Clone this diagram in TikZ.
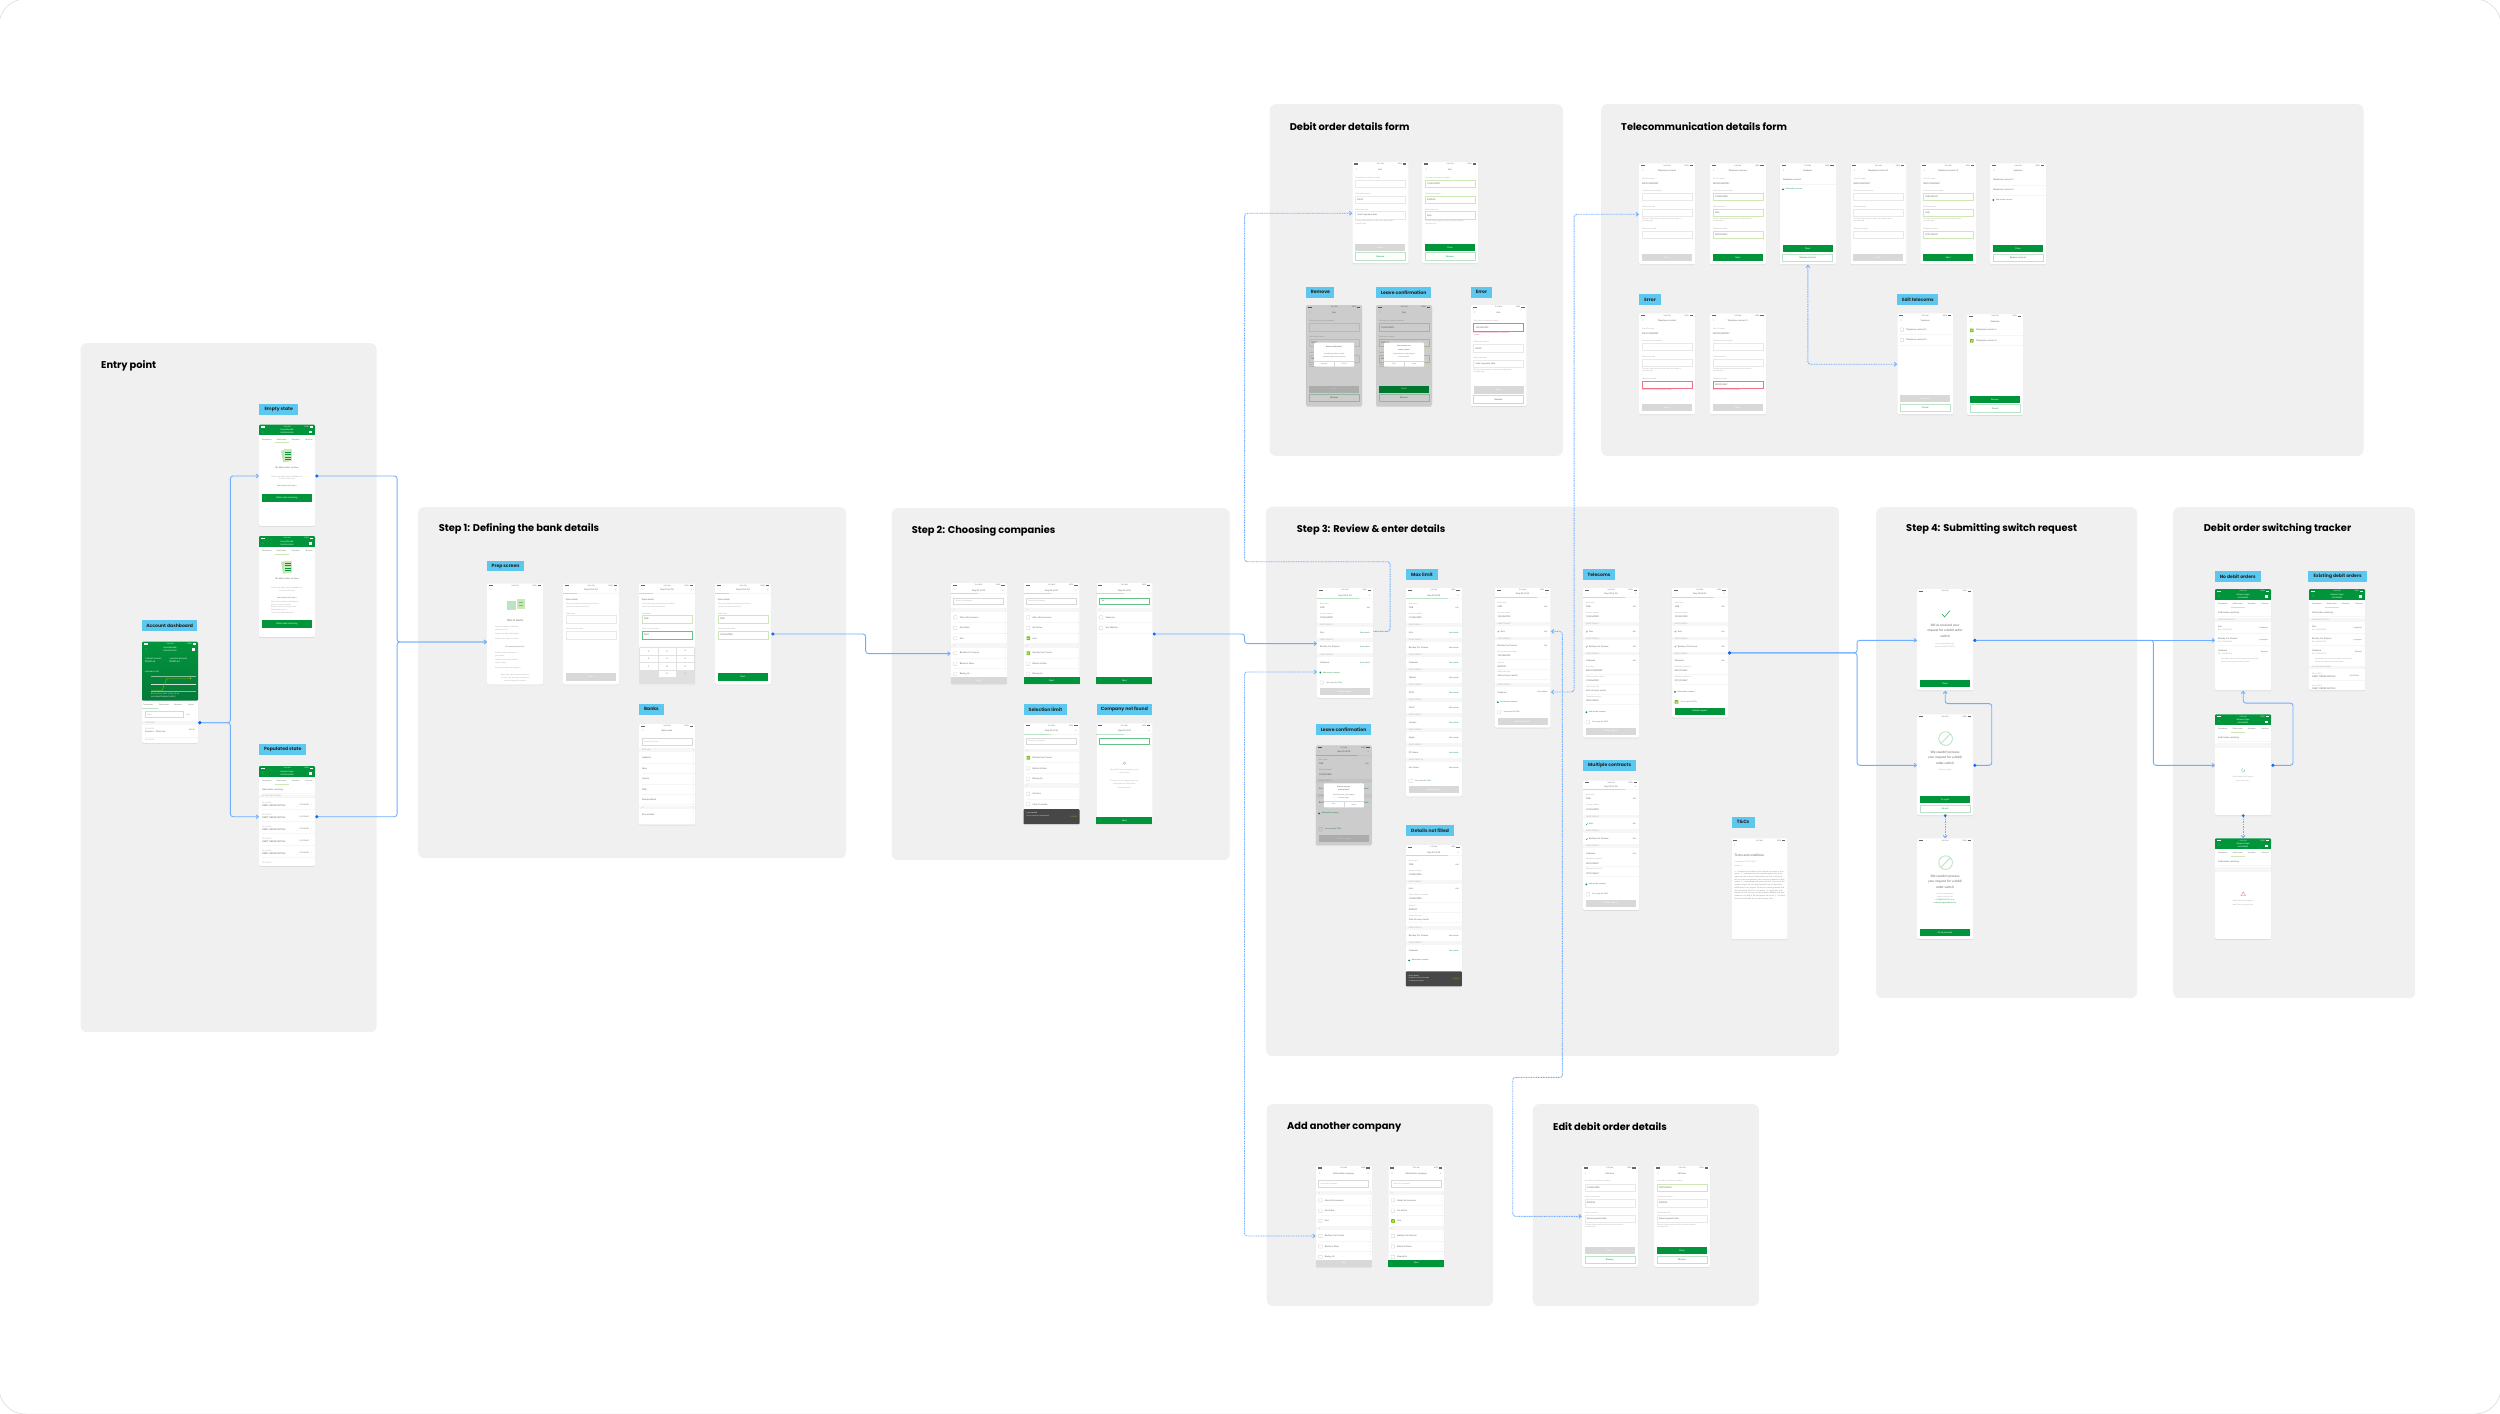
\documentclass[tikz,border=0pt]{standalone}
\usepackage{fontspec}
\usepackage{xcolor}
\setmainfont{Lato}
\setsansfont{Poppins}
\newfontfamily\symbolfont{DejaVu Sans}
\usepackage{tikz}
\usetikzlibrary{arrows.meta,calc,shadows}
\definecolor{flowblue}{HTML}{6FAEFF}
\definecolor{portblue}{HTML}{0A6CFF}
\definecolor{taglight}{HTML}{5CC8F0}
\definecolor{panelgray}{HTML}{F0F0F0}
\definecolor{bankgreen}{HTML}{00953B}
\definecolor{bankdark}{HTML}{06793A}
\definecolor{palegreen}{HTML}{BCE3C8}
\definecolor{limefield}{HTML}{CDE8B5}
\definecolor{limetick}{HTML}{7AC110}
\definecolor{bandgray}{HTML}{F6F6F6}
\definecolor{btngray}{HTML}{D8D8D8}
\definecolor{txtdark}{HTML}{666666}
\definecolor{txtsoft}{HTML}{A8A8A8}
\definecolor{toastgray}{HTML}{474747}
\definecolor{errorred}{HTML}{F0728A}
\definecolor{linkblue}{HTML}{3F96F5}
\newcommand{\fsmall}{\fontsize{2.5}{3}\selectfont}
\newcommand{\ftiny}{\fontsize{2}{2.6}\selectfont}
\newcounter{lblno}
% every little screen text goes through this one
\newcommand{\lbl}[4][]{\if\relax\detokenize{#4}\relax\else\stepcounter{lblno}\node[lbltxt,#1] (lbl\arabic{lblno}) at (#2,#3) {#4};\fi}
\newenvironment{screen}[4]{\node[phone,minimum height=#4*0.04cm] (#1) at (#2,#3) {};\begin{scope}[shift={(#1.north west)}]}{\end{scope}}
\newcommand{\statusrow}[1]{%
  \fill[#1] (2,1.7) rectangle (6,2.8);
  \lbl[anchor=center,font=\ftiny,text=#1]{28}{2.3}{9:41 AM}
  \lbl[anchor=east,font=\ftiny,text=#1]{50}{2.3}{100\%}
  \fill[#1] (50.5,1.6) rectangle (54,2.9);}
\newcommand{\stephead}[3]{% title, bar y, green length
  \statusrow{txtdark}
  \lbl[anchor=center]{4}{#2-3.2}{‹}
  \lbl[anchor=center]{28}{#2-3.2}{#1}
  \lbl[anchor=center]{52.5}{#2-3.2}{×}
  \fill[bandgray] (0,#2-.4) rectangle (56,#2+.4);
  \fill[palegreen] (0,#2-.4) rectangle (#3,#2+.4);}
\newcommand{\backhead}[1]{%
  \statusrow{txtdark}
  \lbl[anchor=center,font=\fontsize{4}{4}\selectfont]{4}{7.7}{‹}
  \lbl[anchor=center]{28}{7.7}{#1}}
\newcommand{\greenhead}[2]{%
  \fill[bankgreen,rounded corners=1.2pt] (0,0) rectangle (56,6);
  \fill[bankgreen] (0,3) rectangle (56,10.7);
  \statusrow{white}
  \lbl[anchor=center,text=white,font=\fontsize{4}{4}\selectfont]{4}{7.5}{‹}
  \lbl[anchor=center,text=white]{28}{5.6}{#1}
  \lbl[anchor=center,text=white,font=\ftiny]{28}{8.6}{#2}
  \fill[white] (50,6.4) rectangle (53,8.6);
  \lbl[anchor=center,font=\ftiny]{7.7}{14.7}{Transactions}
  \lbl[anchor=center,font=\ftiny]{22.7}{14.7}{Debit orders}
  \lbl[anchor=center,font=\ftiny]{36.7}{14.7}{Schedules}
  \lbl[anchor=center,font=\ftiny]{50}{14.7}{Card man}
  \fill[limefield] (16,17.6) rectangle (30,18.4);}
\newcommand{\greenbtn}[3]{\fill[bankgreen] (3,#1) rectangle (53,#2);\lbl[anchor=center,text=white]{28}{#1/2+#2/2}{#3}}
\newcommand{\graybtn}[3]{\fill[btngray] (3,#1) rectangle (53,#2);\lbl[anchor=center,text=white]{28}{#1/2+#2/2}{#3}}
\newcommand{\linebtn}[3]{\draw[palegreen,line width=.7pt] (3,#1) rectangle (53,#2);\lbl[anchor=center,text=bankgreen]{28}{#1/2+#2/2}{#3}}
\newcommand{\band}[2]{\fill[bandgray] (0,#1-1.8) rectangle (56,#1+1.8);\lbl[lblsoft]{3}{#1}{#2}}
\newcommand{\hairline}[1]{\draw[bandgray,line width=.4pt] (3,#1) -- (56,#1);}
\newcommand{\cbox}[2]{\draw[btngray,line width=.5pt,rounded corners=.5pt] (#1,#2-1.7) rectangle (#1+3.4,#2+1.7);}
\newcommand{\cboxon}[2]{\fill[limetick,rounded corners=.5pt] (#1,#2-1.8) rectangle (#1+3.6,#2+1.8);\draw[white,line width=.35pt] (#1+.9,#2) -- (#1+1.6,#2+.8) -- (#1+2.8,#2-.9);}
\newcommand{\tickmark}[2]{\draw[bankgreen,line width=.3pt] (#1,#2) -- (#1+.6,#2+.7) -- (#1+1.6,#2-.8);}
\newcommand{\field}[6]{% label y, box top, box bottom, colour, value, label
  \lbl[lblsoft]{3}{#1}{#6}
  \draw[#4,line width=.6pt] (3,#2) rectangle (53,#3);
  \lbl[lbltxt]{5}{#2/2+#3/2}{#5}}
\newcommand{\listrow}[3]{#2{3}{#1}\lbl{9}{#1}{#3}\hairline{#1+4.8}}
\newcommand{\alphadots}[2]{\pgfmathparse{#1+3}\edef\dotnext{\pgfmathresult}\foreach \dotpos in {#1,\dotnext,...,#2} \fill[txtsoft] (54.6,\dotpos) circle (.2);}
\newcommand{\orderrow}[2]{\lbl{3}{#1}{#2}\lbl[anchor=east,text=bankgreen,font=\ftiny]{53}{#1}{Enter details}}
\newcommand{\editrow}[2]{\tickmark{3}{#1}\lbl{6}{#1}{#2}\lbl[anchor=east,font=\ftiny]{53}{#1}{Edit}}
\newcommand{\addrow}[2]{\fill[bankgreen] (3.3,#1) circle (1);\lbl[text=bankgreen,font=\ftiny]{5.8}{#1}{#2}}
\newcommand{\acceptrow}[2]{#2{3}{#1}\lbl[font=\ftiny]{9}{#1}{You accept the \textcolor{bankgreen}{T\&Cs}}}
\newcommand{\reviewtop}[1]{\begin{scope}[shift={(0,#1)}]
  \lbl[lblsoft]{3}{16}{Bank name}\lbl{3}{20}{FNB}\lbl[anchor=east,font=\ftiny]{53}{20}{Edit}
  \lbl[lblsoft]{3}{26}{Account number}\lbl{3}{30.3}{1234567890}\end{scope}}
\newcommand{\smallfield}[3]{\lbl[lblsoft]{3}{#1}{#2}\lbl{3}{#1+4}{#3}\hairline{#1+6.8}}
\newcommand{\toast}[5]{% top, bottom, title, line one, line two
  \fill[toastgray,rounded corners=1pt] (0,#1) rectangle (56,#2);
  \lbl[text=white,font=\ftiny]{3}{#1+4}{#3}
  \lbl[text=white,font=\fontsize{1.7}{2}\selectfont]{3}{#1+7}{#4}
  \lbl[text=white,font=\fontsize{1.7}{2}\selectfont]{3}{#1+9.5}{#5}
  \lbl[anchor=east,text=limetick,font=\ftiny]{54}{#1/2+#2/2}{DISMISS}}
\newcommand{\dialog}[7]{% top, bottom, two title lines, two body lines, buttons
  \fill[white,rounded corners=1pt] (8,#1) rectangle (48,#2);
  \lbl[anchor=center,font=\ftiny\bfseries]{28}{#1+3.8}{#3}
  \lbl[anchor=center,font=\ftiny\bfseries]{28}{#1+6.8}{#4}
  \lbl[anchor=center,font=\fontsize{1.8}{2}\selectfont]{28}{#1+11.5}{#5}
  \lbl[anchor=center,font=\fontsize{1.8}{2}\selectfont]{28}{#1+14.5}{#6}
  \draw[btngray,line width=.3pt] (8,#2-6) -- (48,#2-6);
  \draw[btngray,line width=.3pt] (28,#2-6) -- (28,#2);
  #7}
\newcommand{\debitform}[8]{% y shift, colours, values, amount colour, date colour
  \begin{scope}[shift={(0,#1)}]
  \field{16.3}{18.7}{26}{#2}{#3}{Your policy or reference number}
  \field{32}{34.3}{41.7}{#4}{#5}{Debit order amount}
  \field{47.7}{50}{57.3}{#6}{#7}{Debit order date}
  \lbl[anchor=east,font=\ftiny]{52}{53.6}{›}
  \lbl[lblsoft]{3}{59.7}{The day of the month on which your debit order is}
  \lbl[lblsoft]{3}{62}{currently paid}#8
  \end{scope}}
\newcommand{\telform}[8]{% id row, account box and value, date box and value, phone box and value, extra
  \lbl[lblsoft]{3}{15.7}{Your ID number}\lbl{3}{20}{8001015009087}
  \field{27.7}{30}{37.3}{#1}{#2}{Contract/account number}
  \field{43.7}{46}{53.3}{#3}{#4}{Debit order date}
  \lbl[anchor=east,font=\ftiny]{52}{49.6}{›}
  \lbl[lblsoft]{3}{55.3}{The day of the month on which your debit order is}
  \lbl[lblsoft]{3}{57.3}{currently paid}
  \field{65.3}{67.7}{75}{#5}{#6}{Telephone number}
  #7#8}
\newcommand{\companylist}[8]{% rows: y, box, name for six rows given as macro arguments
  \draw[btngray,line width=.6pt] (3,15) rectangle (53,21.5);
  \lbl[lblsoft]{5}{18.2}{Search for a company}
  \band{27.3}{A}
  \listrow{34.5}{#1}{Absa Life Insurance}
  \listrow{45}{#2}{Ais Active}
  \listrow{55.3}{#3}{Avis}
  \band{62.9}{B}
  \listrow{70.3}{#4}{Bentley Car Finance}
  \listrow{80.8}{#5}{Blocks \& More}
  \listrow{91.3}{#6}{Boeing Us}
  \alphadots{26}{90}
  #7{94}{101}{#8}}
\newcommand{\barnext}[3]{\fill[btngray] (0,#1) rectangle (56,#2);\lbl[anchor=center,text=white]{28}{#1/2+#2/2}{#3}}
\newcommand{\barnexton}[3]{\fill[bankgreen] (0,#1) rectangle (56,#2);\lbl[anchor=center,text=white]{28}{#1/2+#2/2}{#3}}
\newcommand{\blocked}[2]{\draw[palegreen,line width=1pt] (#1,#2) circle (6.8);\draw[palegreen,line width=1pt] (#1-4.8,#2+4.8) -- (#1+4.8,#2-4.8);}
\newcommand{\docicon}[2]{%
  \fill[palegreen,rotate around={10:(#1,#2)}] (#1-5,#2-6) rectangle (#1+2,#2+6);
  \fill[limefield] (#1-3.5,#2-6.5) rectangle (#1+4.5,#2+5.5);
  \foreach \rowpos in {-4,-1.5,1,3.5} \draw[bankgreen,line width=.35pt] (#1-2,#2+\rowpos) -- (#1+3.5,#2+\rowpos);}
\newcommand{\trackerrow}[4]{\lbl{3}{#1}{#2}\lbl[lblsoft]{3}{#1+3.6}{Ref: 1234567890}\lbl[anchor=east,font=\ftiny]{53}{#1+1.6}{#3}#4}
\newcommand{\tracktop}{\lbl{3}{23.5}{Debit order switching}\lbl[anchor=east,font=\ftiny]{53}{23.5}{›}\hairline{27}}
\newcommand{\statusrows}{\band{31}{SWITCHING STATUS}
  \trackerrow{37.7}{Avis}{Completed}{\hairline{44.5}}
  \trackerrow{49.7}{Bentley Car Finance}{In progress}{\hairline{56.5}}
  \trackerrow{61.7}{Vodacom}{Rejected}{}
  \lbl[lblsoft]{6}{70.3}{Your debit order switching request was rejected.}
  \lbl[lblsoft]{6}{72.7}{Please call Vodacom for more details.}}
\newcommand{\activerow}[1]{\lbl[lblsoft]{3}{#1}{22 Jan 2021}\lbl{3}{#1+3}{DEBIT ORDER ARTICLE}\lbl[anchor=east,font=\ftiny]{50}{#1+1.5}{R12 500.00}\lbl[anchor=east,font=\ftiny]{53}{#1+1.5}{›}\hairline{#1+6.5}}
\begin{document}
\begin{tikzpicture}[x=0.04cm,y=-0.04cm,font=\fsmall]
  \tikzstyle{panel}=[fill=panelgray,rounded corners=7pt]
  \tikzstyle{phone}=[fill=white,rounded corners=1.5pt,minimum width=2.24cm,inner sep=0pt,anchor=north west,drop shadow={shadow xshift=0pt,shadow yshift=-.7pt,opacity=.22}]
  \tikzstyle{tagbox}=[fill=taglight,anchor=north west,inner sep=0pt,minimum height=0.43cm,font=\sffamily\bfseries\fontsize{5.2}{6}\selectfont,text=black!85]
  \tikzstyle{paneltitle}=[anchor=west,inner sep=0pt,font=\sffamily\bfseries\fontsize{11.2}{13}\selectfont,text=black]
  \tikzstyle{lbltxt}=[anchor=west,inner sep=0pt,text=txtdark,font=\fsmall]
  \tikzstyle{lblsoft}=[lbltxt,text=txtsoft,font=\ftiny]
  \tikzstyle{flow}=[draw=flowblue,line width=1pt,rounded corners=3pt,{Circle[length=3.4pt,color=portblue]}-{Straight Barb[length=2.6pt,width=4.4pt]}]
  \tikzstyle{jump}=[draw=flowblue,line width=1pt,rounded corners=3pt,dash pattern=on 1.1pt off .8pt,-{Straight Barb[length=2.6pt,width=4.4pt]}]
  \tikzstyle{jumpboth}=[jump,{Straight Barb[length=2.6pt,width=4.4pt]}-{Straight Barb[length=2.6pt,width=4.4pt]}]
  \useasboundingbox (0,0) rectangle (2500,1413);
  \draw[btngray,line width=.6pt,rounded corners=30pt] (-1,-1) rectangle (2501,1414);
  % panels
  \node[panel,anchor=north west,minimum width=296*0.04cm,minimum height=689*0.04cm] (entrypanel) at (80.4,343) {};
  \node[panel,anchor=north west,minimum width=428*0.04cm,minimum height=351*0.04cm] (steponepanel) at (418,507) {};
  \node[panel,anchor=north west,minimum width=338*0.04cm,minimum height=352*0.04cm] (steptwopanel) at (891.5,508) {};
  \node[panel,anchor=north west,minimum width=573*0.04cm,minimum height=549.5*0.04cm] (stepthreepanel) at (1266,506.4) {};
  \node[panel,anchor=north west,minimum width=261*0.04cm,minimum height=491*0.04cm] (stepfourpanel) at (1876,507) {};
  \node[panel,anchor=north west,minimum width=242*0.04cm,minimum height=491*0.04cm] (trackerpanel) at (2173,507) {};
  \node[panel,anchor=north west,minimum width=293.3*0.04cm,minimum height=351.7*0.04cm] (debitpanel) at (1269.5,104) {};
  \node[panel,anchor=north west,minimum width=762.4*0.04cm,minimum height=351.7*0.04cm] (telpanel) at (1601,104) {};
  \node[panel,anchor=north west,minimum width=226.6*0.04cm,minimum height=201.7*0.04cm] (addpanel) at (1266.4,1104) {};
  \node[panel,anchor=north west,minimum width=226.5*0.04cm,minimum height=201.7*0.04cm] (editpanel) at (1532.5,1104) {};
  \node[paneltitle] (entrytitle) at (101,366) {Entry point};
  \node[paneltitle] (steponetitle) at (438.6,529) {Step 1: Defining the bank details};
  \node[paneltitle] (steptwotitle) at (911.6,531) {Step 2: Choosing companies};
  \node[paneltitle] (stepthreetitle) at (1296.7,529.6) {Step 3: Review \& enter details};
  \node[paneltitle] (stepfourtitle) at (1906,529) {Step 4: Submitting switch request};
  \node[paneltitle] (trackertitle) at (2203.6,529) {Debit order switching tracker};
  \node[paneltitle] (debittitle) at (1289.6,127) {Debit order details form};
  \node[paneltitle] (teltitle) at (1621,127) {Telecommunication details form};
  \node[paneltitle] (addtitle) at (1287,1127) {Add another company};
  \node[paneltitle] (edittitle) at (1553,1127) {Edit debit order details};
  % tags
  \node[tagbox,minimum width=55*0.04cm] (tagdash) at (142,620) {Account dashboard};
  \node[tagbox,minimum width=39*0.04cm] (tagempty) at (259,404) {Empty state};
  \node[tagbox,minimum width=47*0.04cm] (tagpop) at (259,744) {Populated state};
  \node[tagbox,minimum width=36.8*0.04cm] (tagprep) at (487,560.5) {Prep screen};
  \node[tagbox,minimum width=24.6*0.04cm] (tagbanks) at (639,703.7) {Banks};
  \node[tagbox,minimum width=43.5*0.04cm] (taglimit) at (1023.5,704) {Selection limit};
  \node[tagbox,minimum width=55.6*0.04cm] (tagnotfound) at (1096.4,704) {Company not found};
  \node[tagbox,minimum width=32*0.04cm] (tagmax) at (1405.8,569.3) {Max limit};
  \node[tagbox,minimum width=31.7*0.04cm] (tagtelecoms) at (1583,569.3) {Telecoms};
  \node[tagbox,minimum width=55.2*0.04cm] (tagleave) at (1315.8,724.3) {Leave confirmation};
  \node[tagbox,minimum width=48.2*0.04cm] (tagnotfilled) at (1405.8,825) {Details not filled};
  \node[tagbox,minimum width=53*0.04cm] (tagmulti) at (1583,760) {Multiple contracts};
  \node[tagbox,minimum width=23*0.04cm] (tagterms) at (1731.4,816.8) {T\&Cs};
  \node[tagbox,minimum width=46.4*0.04cm] (tagnoorders) at (2214.3,570.7) {No debit orders};
  \node[tagbox,minimum width=58.8*0.04cm] (tagexisting) at (2308,570.7) {Existing debit orders};
  \node[tagbox,minimum width=28.1*0.04cm] (tagremove) at (1306.2,286.7) {Remove};
  \node[tagbox,minimum width=54.9*0.04cm] (tagleavetwo) at (1376,286.7) {Leave confirmation};
  \node[tagbox,minimum width=21.5*0.04cm] (tagerror) at (1470.5,286.7) {Error};
  \node[tagbox,minimum width=21.8*0.04cm] (tagerrortwo) at (1639,294) {Error};
  \node[tagbox,minimum width=41*0.04cm] (tagedit) at (1897.2,294) {Edit telecoms};

  % entry point
  \begin{screen}{dash}{142}{641.7}{101}
    \shade[top color=bankgreen,bottom color=bankdark,rounded corners=1.2pt] (0,0) rectangle (56,59);
    \statusrow{white}
    \lbl[anchor=center,text=white,font=\fontsize{4}{4}\selectfont]{4}{8}{‹}
    \lbl[anchor=center,text=white]{28}{6.6}{Savvy Bundle}
    \lbl[anchor=center,text=white,font=\ftiny]{28}{9.6}{0000000000000}
    \fill[white] (50,6.4) rectangle (53,9);
    \lbl[text=white,font=\ftiny]{3}{17}{CURRENT BALANCE}
    \lbl[text=white]{3}{20.5}{R8 081.64}
    \lbl[text=white,font=\ftiny]{27.5}{17}{AVAILABLE BALANCE}
    \lbl[text=white]{27.5}{20.5}{R8 081.64}
    \lbl[text=white,font=\ftiny]{3}{30}{AVAILABLE LIMIT}
    \draw[white,opacity=.5,line width=.25pt] (9,34) -- (54,34);
    \draw[white,opacity=.8,line width=.3pt] (9,42) -- (54,42);
    \draw[white,opacity=.5,line width=.25pt] (9,49.5) -- (54,49.5);
    \draw[limetick,line width=.4pt] (9,49) -- (20,49) -- (25,36.5) -- (49,36.5);
    \fill[yellow!80!limetick] (48.5,36.5) circle (.6);
    \lbl[text=white,font=\ftiny]{9}{52}{01 Jul \, 02 Jul \, 03 Jul \, 04 Jul \, 05 Jul}
    \lbl[text=white,font=\ftiny]{9}{55.4}{INCLUDING PENDING DEBITS}
    \lbl[font=\ftiny]{1}{63}{Transactions}
    \lbl[font=\ftiny]{17}{63}{Debit orders}
    \lbl[font=\ftiny]{32}{63}{Schedules}
    \lbl[font=\ftiny]{46}{63}{Card m}
    \fill[palegreen] (0,66.6) rectangle (16,67.4);
    \draw[btngray,line width=.5pt] (3,70) rectangle (41,76);
    \lbl[lblsoft]{5}{73}{Search}
    \lbl[lblsoft]{44}{73}{Filter}
    \band{81}{THIS WEEK}
    \lbl[lblsoft]{3}{87}{02 Jul 2023}
    \lbl{3}{90.5}{Payment - Thank you}
    \lbl[anchor=east,font=\ftiny]{53}{88.5}{R80.00}
    \hairline{95}
    \lbl[lblsoft]{3}{98.5}{02 Jul 2023}
  \end{screen}
  \begin{screen}{emptyone}{259}{424.7}{101}
    \greenhead{Savvy Bundle}{0000000000000}
    \docicon{28}{31}
    \lbl[anchor=center,text=txtdark]{28}{43}{No debit orders to show}
    \lbl[lblsoft,anchor=center]{28}{52}{Switch your debit orders to Nedbank via}
    \lbl[lblsoft,anchor=center]{28}{54.7}{it's quick switch way}
    \lbl[anchor=center,text=bankgreen,font=\ftiny]{28}{61.7}{Here's what you'll need {\symbolfont →}}
    \greenbtn{69.7}{77}{Debit order switching}
  \end{screen}
  \begin{screen}{emptytwo}{259}{536}{101}
    \greenhead{Savvy Bundle}{0000000000000}
    \docicon{28}{31}
    \lbl[anchor=center,text=txtdark]{28}{43}{No debit orders to show}
    \lbl[lblsoft,anchor=center]{28}{52}{Switch your debit orders to Nedbank via}
    \lbl[lblsoft,anchor=center]{28}{54.7}{it's quick switch way}
    \lbl[anchor=center,text=bankgreen,font=\ftiny]{28}{61.7}{Here's what you'll need {\symbolfont →}}
    \lbl[lblsoft]{12}{66}{Name of the company debiting you}
    \lbl[lblsoft]{12}{68.7}{Policy or contract number}
    \lbl[lblsoft]{12}{71.3}{Bank account you're paying from}
    \lbl[lblsoft]{12}{74}{Debit order amount}
    \lbl[lblsoft]{12}{76.7}{Your current debit order date}
    \greenbtn{84}{92}{Debit order switching}
  \end{screen}
  \begin{screen}{populated}{259}{766}{100}
    \greenhead{Account type}{0000000000000}
    \tracktop
    \band{30.3}{ACTIVE DEBIT ORDERS}
    \foreach \rowy in {37,49,61,73,85} {\activerow{\rowy}}
    \lbl[lblsoft]{3}{97}{22 Jan 2021}
  \end{screen}

  % step 1
  \begin{screen}{prep}{487}{583.4}{101}
    \statusrow{txtdark}
    \lbl[anchor=center,font=\fontsize{4}{4}\selectfont]{4}{6}{‹}
    \fill[palegreen] (20,18) rectangle (29,27);
    \fill[limefield] (30,15.5) rectangle (38,26);
    \draw[bankgreen!60,line width=.4pt] (32,19) -- (36,19) (32,22) -- (36,22);
    \lbl[anchor=center,font=\fontsize{3.2}{4}\selectfont]{28}{37}{How it works}
    \lbl[lblsoft]{8}{44}{Select the companies debiting}
    \lbl[lblsoft]{8}{46.6}{you from our list}
    \lbl[lblsoft]{8}{51}{Capture the debit order details}
    \lbl[lblsoft]{8}{56}{Submit your request to switch}
    \lbl[anchor=center,font=\ftiny]{28}{64}{Our switching team will:}
    \lbl[lblsoft]{8}{70}{Contact all the companies on}
    \lbl[lblsoft]{8}{72.5}{your behalf}
    \lbl[lblsoft]{8}{77}{Follow up with them until the}
    \lbl[lblsoft]{8}{79.6}{switch is done}
    \lbl[lblsoft]{8}{84.5}{Keep you posted on the progress}
    \lbl[lblsoft,anchor=center]{28}{92}{Debit order switching may take up to}
    \lbl[lblsoft,anchor=center]{28}{95}{30 days. The start time will depend}
    \lbl[lblsoft,anchor=center]{28}{98}{on each company's response}
  \end{screen}
  \begin{screen}{bankone}{563}{583.4}{101}
    \stephead{Step 01 of 04}{10}{14}
    \lbl{3}{16}{Bank details}
    \lbl[lblsoft]{3}{20.6}{Give us the bank account that you'd like to}
    \lbl[lblsoft]{3}{23.6}{switch your debit orders from.}
    \field{30}{32}{39.5}{btngray!60}{}{Select bank}
    \field{45.5}{48}{55.5}{btngray!60}{}{Enter account number}
    \graybtn{90}{97.5}{Next}
  \end{screen}
  \begin{screen}{banktwo}{639}{583.4}{101}
    \fill[btngray!80!white,rounded corners=1.5pt] (0,63.4) rectangle (56,101);
    \stephead{Step 01 of 04}{10}{14}
    \lbl{3}{16}{Bank details}
    \lbl[lblsoft]{3}{20.6}{Give us the bank account that you'd like to}
    \lbl[lblsoft]{3}{23.6}{switch your debit orders from.}
    \field{30}{32}{39.5}{limefield}{FNB}{Select bank}
    \field{45.5}{48}{55.5}{bankgreen!60}{0847}{Enter account number}
    \foreach \keyy/\one/\two/\three in {64.8/1/2/3,72.4/4/5/6,80/7/8/9} {
      \fill[white] (1,\keyy) rectangle (18.5,\keyy+6.3);
      \fill[white] (19.5,\keyy) rectangle (36.5,\keyy+6.3);
      \fill[white] (37.5,\keyy) rectangle (55,\keyy+6.3);
      \lbl[anchor=center]{9.7}{\keyy+3}{\one}
      \lbl[anchor=center]{28}{\keyy+3}{\two}
      \lbl[anchor=center]{46.2}{\keyy+3}{\three}
    }
    \fill[white] (19.5,87.6) rectangle (36.5,94);
    \lbl[anchor=center]{28}{90.8}{0}
    \lbl[anchor=center]{46.2}{90.8}{×}
  \end{screen}
  \begin{screen}{bankthree}{715}{583.4}{101}
    \stephead{Step 01 of 04}{10}{14}
    \lbl{3}{16}{Bank details}
    \lbl[lblsoft]{3}{20.6}{Give us the bank account that you'd like to}
    \lbl[lblsoft]{3}{23.6}{switch your debit orders from.}
    \field{30}{32}{39.5}{limefield}{FNB}{Select bank}
    \field{45.5}{48}{55.5}{limefield}{1234567890}{Enter account number}
    \greenbtn{90}{97.5}{Next}
  \end{screen}
  \begin{screen}{banklist}{639}{724}{100.5}
    \statusrow{txtdark}
    \lbl[anchor=center,font=\fontsize{4}{4}\selectfont]{4}{7}{‹}
    \lbl[anchor=center]{28}{7}{Bank name}
    \draw[btngray,line width=.6pt] (3,14) rectangle (53,21);
    \lbl[lblsoft]{5}{17.5}{Search bank name}
    \band{26}{POPULAR}
    \foreach \rowy/\bankname in {34/Nedbank,44.6/Absa,55/Capitec,65.6/FNB,75.8/Standard Bank} {
      \lbl{3}{\rowy}{\bankname}
      \hairline{\rowy+4.8}
    }
    \band{83.6}{A}
    \lbl{3}{91}{African Bank}
    \alphadots{26}{96}
  \end{screen}

  % step 2
  \begin{screen}{companyone}{950.6}{582.9}{101}
    \stephead{Step 02 of 04}{10.7}{27.5}
    \companylist{\cbox}{\cbox}{\cbox}{\cbox}{\cbox}{\cbox}{\barnext}{Next}
  \end{screen}
  \begin{screen}{companytwo}{1023.5}{582.9}{101}
    \stephead{Step 02 of 04}{10.7}{27.5}
    \companylist{\cbox}{\cbox}{\cboxon}{\cboxon}{\cbox}{\cbox}{\barnexton}{Next}
  \end{screen}
  \begin{screen}{companythree}{1096.4}{582.9}{101}
    \stephead{Step 02 of 04}{10.7}{27.5}
    \draw[bankgreen!60,line width=.6pt] (3,15) rectangle (53,21.5);
    \lbl{5}{18.2}{Vo}
    \band{27.3}{V}
    \listrow{34.5}{\cbox}{Vodacom}
    \listrow{45}{\cbox}{Vox Telecom}
    \barnexton{94}{101}{Next}
  \end{screen}
  \begin{screen}{companylimit}{1023.5}{723.2}{101}
    \stephead{Step 02 of 04}{10.7}{27.5}
    \draw[btngray,line width=.6pt] (3,15) rectangle (53,21.5);
    \lbl[lblsoft]{5}{18.2}{Search for a company}
    \band{27.3}{B}
    \listrow{34.5}{\cboxon}{Bentley Car Finance}
    \listrow{45}{\cbox}{Blocks \& More}
    \listrow{55.5}{\cbox}{Boeing Us}
    \band{63}{C}
    \listrow{70.7}{\cbox}{Cartrack}
    \listrow{81}{\cbox}{Cash Crusaders}
    \toast{86}{101}{Limit reached}{You can select up to 10 companies}{}
  \end{screen}
  \begin{screen}{companynone}{1096.4}{723.2}{101}
    \stephead{Step 02 of 04}{10.7}{27.5}
    \draw[bankgreen!60,line width=.6pt] (3,15) rectangle (53,21.5);
    \draw[txtsoft,line width=.3pt] (28,40) circle (1.2);
    \lbl[lblsoft,anchor=center]{28}{46.4}{We couldn't find the company you're}
    \lbl[lblsoft,anchor=center]{28}{50}{searching for.}
    \lbl[lblsoft,anchor=center]{28}{57.5}{Chances are, the company does not}
    \lbl[lblsoft,anchor=center]{28}{61}{participate in our debit order}
    \lbl[lblsoft,anchor=center]{28}{64.6}{switching service.}
    \barnexton{94}{101}{Next}
  \end{screen}

  % step 3
  \begin{screen}{review}{1317}{587.9}{110}
    \stephead{Step 03 of 04}{10.7}{42}
    \reviewtop{0}
    \band{37}{DEBIT ORDER 1}\orderrow{44.6}{Avis}
    \band{52}{DEBIT ORDER 2}\orderrow{59.3}{Bentley Car Finance}
    \band{67}{DEBIT ORDER 3}\orderrow{74.6}{Vodacom}
    \addrow{84.6}{Add another company}
    \acceptrow{94.6}{\cbox}
    \graybtn{100}{107.5}{Submit request}
  \end{screen}
  \begin{screen}{reviewleave}{1315.8}{745.4}{100}
    \stephead{Step 03 of 04}{9.6}{42}
    \reviewtop{-1.4}
    \band{35.6}{DEBIT ORDER 1}\orderrow{43.2}{Avis}
    \band{50.6}{DEBIT ORDER 2}\orderrow{57.9}{Bentley Car Finance}
    \addrow{68}{Add another company}
    \acceptrow{84}{\cbox}
    \graybtn{89.6}{96.8}{Submit request}
    \fill[black,opacity=.2,rounded corners=1.5pt] (0,0) rectangle (56,100);
    \dialog{38}{62}{Are you sure you}{want to leave?}{If you leave now, your progress}{won't be saved.}{\lbl[anchor=center,text=linkblue,font=\ftiny]{18}{59}{Stay}\lbl[anchor=center,text=linkblue,font=\ftiny]{38}{59}{Leave}}
  \end{screen}
  \begin{screen}{reviewmax}{1405.8}{587.9}{208.5}
    \stephead{Step 03 of 04}{10.7}{42}
    \reviewtop{0}
    \foreach \ordno/\ordname [evaluate=\ordno as \bandy using int(37+15*(\ordno-1)), evaluate=\ordno as \namey using 44.6+15*(\ordno-1)] in {1/Avis,2/Bentley Car Finance,3/Vodacom,4/Telkom,5/MTN,6/Cell C,7/Huawei,8/Apple,9/PC Home,10/Sun Hired} {
      \band{\bandy}{DEBIT ORDER \ordno}
      \orderrow{\namey}{\ordname}
    }
    \acceptrow{193}{\cbox}
    \graybtn{198}{205.5}{Submit request}
  \end{screen}
  \begin{screen}{reviewmissing}{1405.8}{845}{141.4}
    \stephead{Step 03 of 04}{10.7}{42}
    \reviewtop{-.6}
    \band{36.8}{DEBIT ORDER 1}
    \lbl{3}{44}{Avis}\lbl[anchor=east,font=\ftiny]{53}{44}{Edit}
    \smallfield{50}{Policy/reference number}{1234567890}
    \smallfield{60.7}{Amount}{R500.00}
    \smallfield{70.7}{Debit order date}{26th of every month}
    \band{82.8}{DEBIT ORDER 2}\orderrow{90.4}{Bentley Car Finance}
    \band{98}{DEBIT ORDER 3}\orderrow{105.4}{Vodacom}
    \addrow{115.4}{Add another company}
    \toast{126.4}{141.4}{Enter details}{Please fill in all the info needed}{to submit your request}
  \end{screen}
  \begin{screen}{reviewdebit}{1494.5}{587.9}{139.6}
    \stephead{Step 03 of 04}{9.3}{42}
    \reviewtop{-1.4}
    \band{36}{DEBIT ORDER 1}\editrow{43.6}{Avis}
    \band{50.7}{DEBIT ORDER 2}
    \lbl{3}{58}{Bentley Car Finance}\lbl[anchor=east,font=\ftiny]{53}{58}{Edit}
    \smallfield{64}{Policy/reference number}{1234567890}
    \smallfield{74.6}{Amount}{R500.00}
    \smallfield{84}{Debit order date}{26th of every month}
    \band{96.8}{DEBIT ORDER 3}\orderrow{104.3}{Vodacom}
    \addrow{114.3}{Add another company}
    \acceptrow{124.3}{\cbox}
    \graybtn{130}{137}{Submit request}
  \end{screen}
  \begin{screen}{reviewtel}{1583}{587.9}{149.6}
    \stephead{Step 03 of 04}{9.3}{42}
    \reviewtop{-1.4}
    \band{36}{DEBIT ORDER 1}\editrow{43.6}{Avis}
    \band{50.7}{DEBIT ORDER 2}\editrow{58.6}{Bentley Car Finance}
    \band{65.7}{DEBIT ORDER 3}
    \lbl{3}{73}{Vodacom}\lbl[anchor=east,font=\ftiny]{53}{73}{Edit}
    \smallfield{79}{ID number}{8001015009087}
    \smallfield{89}{Policy/contract number}{1234567890}
    \smallfield{99}{Debit order date}{26th of every month}
    \smallfield{109}{Telephone contract}{0821234567}
    \addrow{124.3}{Add another company}
    \acceptrow{134.3}{\cbox}
    \graybtn{139.6}{147}{Submit request}
  \end{screen}
  \begin{screen}{reviewdone}{1671.7}{587.9}{129.6}
    \stephead{Step 03 of 04}{9.3}{42}
    \reviewtop{-1.4}
    \band{36}{DEBIT ORDER 1}\editrow{43.6}{Avis}
    \band{50.7}{DEBIT ORDER 2}\editrow{58.6}{Bentley Car Finance}
    \band{65.7}{DEBIT ORDER 3}
    \lbl{3}{73}{Vodacom}\lbl[anchor=east,font=\ftiny]{53}{73}{Edit}
    \smallfield{79}{Telephone contract 1}{0821234567}
    \smallfield{89}{Telephone contract 2}{0721234567}
    \addrow{104}{Add another company}
    \acceptrow{114}{\cboxon}
    \greenbtn{119.6}{127}{Submit request}
  \end{screen}
  \begin{screen}{reviewmulti}{1583}{780.4}{129.6}
    \stephead{Step 03 of 04}{9.3}{42}
    \reviewtop{-1.4}
    \band{36}{DEBIT ORDER 1}\editrow{43.6}{Avis}
    \band{50.7}{DEBIT ORDER 2}\editrow{58.6}{Bentley Car Finance}
    \band{65.7}{DEBIT ORDER 3}
    \lbl{3}{73}{Vodacom}\lbl[anchor=east,font=\ftiny]{53}{73}{Edit}
    \smallfield{79}{Telephone contract 1}{0821234567}
    \smallfield{89}{Telephone contract 2}{0721234567}
    \addrow{104}{Add another company}
    \acceptrow{114}{\cbox}
    \graybtn{119.3}{126.4}{Submit request}
  \end{screen}
  \begin{screen}{terms}{1731.4}{838.2}{101}
    \statusrow{txtdark}
    \lbl[anchor=center,font=\fontsize{4}{4}\selectfont]{3.5}{7.5}{‹}
    \lbl[font=\fontsize{3.6}{4}\selectfont]{3}{16.8}{Terms and conditions}
    \lbl[lblsoft]{3}{23.6}{Last updated: 15/12/2020}
    \lbl[lblsoft]{3}{28}{Version: 1}
    \lbl[anchor=north west,text=txtdark!80,text width=2.02cm,align=left,font=\fontsize{2}{3.1}\selectfont]{3}{32.4}{1. I confirm that the details I have entered are correct in all respects. 2. I understand that the mandate applies only to payments into the account of third parties and that it will not affect any other arrangements I have with the companies or third parties. 3. I acknowledge and understand that: (i) the bank will contact and give the new banking details only to those third parties listed in my request. (ii) the bank cannot guarantee that the third parties will act on my request. 4. I agree that: (i) although the bank will carry out the mandate, Nedbank and third parties are not liable if the third parties do not act. 5. The bank will not be held liable for any loss that may arise.}
  \end{screen}

  % step 4
  \begin{screen}{sentok}{1917}{589}{101.3}
    \statusrow{txtdark}
    \draw[bankgreen,line width=.5pt] (25,25) -- (27.5,28) -- (33,21.5);
    \lbl[anchor=center,font=\fontsize{3.7}{4}\selectfont]{28}{36.7}{We've received your}
    \lbl[anchor=center,font=\fontsize{3.7}{4}\selectfont]{28}{42}{request for a debit order}
    \lbl[anchor=center,font=\fontsize{3.7}{4}\selectfont]{28}{47.3}{switch}
    \lbl[lblsoft,anchor=center]{28}{54.7}{If you need further help,}
    \lbl[lblsoft,anchor=center]{28}{57.7}{please call 0860 100 100.}
    \greenbtn{90.7}{98}{Done}
  \end{screen}
  \begin{screen}{sentretry}{1917}{714.3}{101}
    \statusrow{txtdark}
    \blocked{28.6}{24.3}
    \lbl[anchor=center,font=\fontsize{3.7}{4}\selectfont]{28}{38.3}{We couldn't process}
    \lbl[anchor=center,font=\fontsize{3.7}{4}\selectfont]{28}{43.7}{your request for a debit}
    \lbl[anchor=center,font=\fontsize{3.7}{4}\selectfont]{28}{49}{order switch}
    \lbl[lblsoft,anchor=center]{28}{56}{Please try again}
    \greenbtn{81.7}{89}{Try again}
    \linebtn{91}{98}{Cancel}
  \end{screen}
  \begin{screen}{sentfail}{1917}{838.3}{100.7}
    \statusrow{txtdark}
    \blocked{28.6}{24.3}
    \lbl[anchor=center,font=\fontsize{3.7}{4}\selectfont]{28}{38.3}{We couldn't process}
    \lbl[anchor=center,font=\fontsize{3.7}{4}\selectfont]{28}{43.7}{your request for a debit}
    \lbl[anchor=center,font=\fontsize{3.7}{4}\selectfont]{28}{49}{order switch}
    \lbl[lblsoft,anchor=center]{28}{56}{For more information,}
    \lbl[lblsoft,anchor=center]{28}{59}{please contact us on}
    \lbl[anchor=center,text=bankgreen,font=\ftiny]{28}{62}{+27 0860 555 111 or at}
    \lbl[anchor=center,text=bankgreen,font=\ftiny]{28}{65}{nedswitching@nedbank.co.za}
    \greenbtn{90.3}{97.7}{Go to overview}
  \end{screen}

  % tracker
  \begin{screen}{trackone}{2215}{589}{101.3}
    \greenhead{Account type}{0000000000}
    \tracktop
    \statusrows
  \end{screen}
  \begin{screen}{trackexist}{2309}{589}{101.3}
    \greenhead{Account type}{0000000000}
    \tracktop
    \statusrows
    \band{78.3}{ACTIVE DEBIT ORDERS}
    \activerow{85}
    \lbl[lblsoft]{3}{97}{22 Jan 2021}
    \lbl{3}{100}{DEBIT ORDER ARTICLE}
  \end{screen}
  \begin{screen}{trackload}{2215}{714.3}{101}
    \greenhead{Account type}{0000000000}
    \tracktop
    \fill[bandgray] (0,29) rectangle (56,33.3);
    \draw[bankgreen!60,line width=.4pt] (29.7,55) arc (-30:260:1.7);
    \lbl[lblsoft,anchor=center]{28}{63}{Debit orders have failed to}
    \lbl[lblsoft,anchor=center]{28}{66.7}{load. Tap to retry.}
  \end{screen}
  \begin{screen}{trackfail}{2215}{838.3}{100.7}
    \greenhead{Account type}{0000000000}
    \tracktop
    \fill[bandgray] (0,29) rectangle (56,33.3);
    \draw[errorred,line width=.4pt] (28.2,53.5) -- (30.4,57.5) -- (26,57.5) -- cycle;
    \lbl[lblsoft,anchor=center]{28}{63}{Debit orders have failed to}
    \lbl[lblsoft,anchor=center]{28}{66.7}{load. Please try again later.}
  \end{screen}

  % debit order form
  \begin{screen}{debitone}{1352.3}{161.7}{101.6}
    \backhead{Avis}
    \debitform{0}{btngray!60}{}{btngray!60}{R0.00}{btngray!60}{Select payment date}{}
    \graybtn{82}{89.3}{Done}
    \linebtn{91}{98.3}{Remove}
  \end{screen}
  \begin{screen}{debittwo}{1422}{161.7}{101.6}
    \backhead{Avis}
    \debitform{0}{limefield}{1234567890}{limefield}{R500.00}{limefield}{26th}{}
    \greenbtn{82}{89.3}{Done}
    \linebtn{91}{98.3}{Remove}
  \end{screen}
  \begin{screen}{debitremove}{1306.2}{305}{101}
    \backhead{Avis}
    \debitform{0}{btngray!60}{}{btngray!60}{R0.00}{btngray!60}{Select payment date}{}
    \graybtn{80.5}{87.8}{Done}
    \linebtn{89.5}{96.8}{Remove}
    \fill[black,opacity=.2,rounded corners=1.5pt] (0,0) rectangle (56,101);
    \dialog{37.7}{61.7}{Remove debit order?}{}{You will not be able to switch}{this debit order to your account.}{\lbl[anchor=center,text=linkblue,font=\ftiny]{18}{58.7}{Remove}\lbl[anchor=center,text=linkblue,font=\ftiny]{38}{58.7}{Cancel}}
  \end{screen}
  \begin{screen}{debitleave}{1376}{305}{101}
    \backhead{Avis}
    \debitform{0}{limefield}{1234567890}{limefield}{R500.00}{limefield}{26th}{}
    \greenbtn{80.5}{87.8}{Done}
    \linebtn{89.5}{96.8}{Remove}
    \fill[black,opacity=.2,rounded corners=1.5pt] (0,0) rectangle (56,101);
    \dialog{37.7}{61.7}{Are you sure you}{want to leave?}{If you leave now, your progress}{won't be saved.}{\lbl[anchor=center,text=linkblue,font=\ftiny]{18}{58.7}{Stay}\lbl[anchor=center,text=linkblue,font=\ftiny]{38}{58.7}{Leave}}
  \end{screen}
  \begin{screen}{debiterror}{1470.5}{305}{101}
    \backhead{Avis}
    \field{15.5}{18.7}{26}{errorred}{1234567890}{Your policy or reference number}
    \lbl[text=errorred,font=\ftiny]{3}{27.7}{You've entered a duplicate policy or reference}
    \lbl[text=errorred,font=\ftiny]{3}{30}{number}
    \field{37.3}{39.7}{47}{btngray!60}{R0.00}{Debit order amount}
    \field{53}{55.3}{62.7}{btngray!60}{Select payment date}{Debit order date}
    \lbl[lblsoft]{3}{65}{The day of the month on which your debit order is}
    \lbl[lblsoft]{3}{67}{currently paid}
    \graybtn{81.3}{88.7}{Done}
    \linebtn{90.7}{98}{Remove}
  \end{screen}

  % telecoms form
  \begin{screen}{telone}{1639}{163.3}{101}
    \backhead{Telephone contract}
    \telform{btngray!60}{}{btngray!60}{}{btngray!60}{}{\graybtn{90.7}{98}{Next}}{}
  \end{screen}
  \begin{screen}{teltwo}{1709.8}{163.3}{101}
    \backhead{Telephone contract}
    \telform{limefield}{1234567890}{limefield}{26th}{limefield}{0821234567}{\greenbtn{90.7}{98}{Next}}{}
  \end{screen}
  \begin{screen}{telthree}{1779.7}{163.3}{101}
    \backhead{Vodacom}
    \lbl{3}{16.7}{Telephone contract}\lbl[anchor=east,font=\ftiny]{53}{16.7}{›}\hairline{21}
    \addrow{26}{Add another contract}
    \greenbtn{81.7}{89}{Done}
    \linebtn{90.7}{98}{Remove contract}
  \end{screen}
  \begin{screen}{telfour}{1850.3}{163.3}{101}
    \backhead{Telephone contract 2}
    \telform{btngray!60}{}{btngray!60}{}{btngray!60}{}{\graybtn{90.7}{98}{Next}}{}
  \end{screen}
  \begin{screen}{telfive}{1920.2}{163.3}{101}
    \backhead{Telephone contract 2}
    \telform{limefield}{0987654321}{limefield}{26th}{limefield}{0721234567}{\greenbtn{90.7}{98}{Next}}{}
  \end{screen}
  \begin{screen}{telsix}{1990}{163.3}{101}
    \backhead{Vodacom}
    \lbl{3}{16.7}{Telephone contract 1}\lbl[anchor=east,font=\ftiny]{53}{16.7}{›}\hairline{21.5}
    \lbl{3}{27}{Telephone contract 2}\lbl[anchor=east,font=\ftiny]{53}{27}{›}\hairline{32}
    \addrow{36.7}{Add another contract}
    \greenbtn{81.7}{89}{Done}
    \linebtn{90.7}{98}{Remove contract}
  \end{screen}
  \begin{screen}{telerrorone}{1639}{313.3}{101}
    \backhead{Telephone contract}
    \telform{btngray!60}{}{btngray!60}{}{errorred}{}{\lbl[text=errorred,font=\ftiny]{3}{77}{Please enter a valid telephone number}}{\graybtn{90.7}{98}{Next}}
  \end{screen}
  \begin{screen}{telerrortwo}{1709.8}{313.3}{101}
    \backhead{Telephone contract 2}
    \telform{btngray!60}{}{btngray!60}{}{errorred}{0821234567}{\lbl[text=errorred,font=\ftiny]{3}{77}{You've entered a duplicate number}}{\graybtn{90.7}{98}{Next}}
  \end{screen}
  \begin{screen}{teleditone}{1897.2}{313.3}{101}
    \backhead{Vodacom}
    \listrow{16.3}{\cbox}{Telephone contract 1}
    \listrow{26.7}{\cbox}{Telephone contract 2}
    \graybtn{81.7}{89}{Remove}
    \linebtn{90.7}{98}{Cancel}
  \end{screen}
  \begin{screen}{teledittwo}{1967}{314}{101}
    \backhead{Vodacom}
    \listrow{16.3}{\cboxon}{Telephone contract 1}
    \listrow{26.7}{\cboxon}{Telephone contract 2}
    \greenbtn{81.7}{89}{Remove}
    \linebtn{90.7}{98}{Cancel}
  \end{screen}

  % add company, edit details
  \begin{screen}{addone}{1315.7}{1165.7}{101}
    \backhead{Add another company}
    \lbl[anchor=center]{52.5}{7.7}{×}
    \companylist{\cbox}{\cbox}{\cbox}{\cbox}{\cbox}{\cbox}{\barnext}{Next}
  \end{screen}
  \begin{screen}{addtwo}{1388.2}{1165.7}{101}
    \backhead{Add another company}
    \lbl[anchor=center]{52.5}{7.7}{×}
    \companylist{\cbox}{\cbox}{\cboxon}{\cbox}{\cbox}{\cbox}{\barnexton}{Next}
  \end{screen}
  \begin{screen}{editone}{1581.8}{1165.7}{101}
    \backhead{Edit Avis}
    \debitform{-.6}{btngray!60}{1234567890}{btngray!60}{R500.00}{btngray!60}{Select payment date}{}
    \graybtn{81.3}{88.7}{Done}
    \linebtn{90.3}{97.7}{Remove}
  \end{screen}
  \begin{screen}{edittwo}{1654}{1165.7}{101}
    \backhead{Edit Avis}
    \debitform{-.6}{limefield}{0987654321}{btngray!60}{R500.00}{btngray!60}{Select payment date}{}
    \greenbtn{81.3}{88.7}{Done}
    \linebtn{90.3}{97.7}{Remove}
  \end{screen}

  % connectors
  \draw[flow] ($(dash.north east)+(0,81)$) -- ++(32,0) |- ($(emptyone.north west)+(0,51.3)$);
  \draw[flow] ($(dash.north east)+(0,81)$) -- ++(32,0) |- ($(populated.north west)+(0,50.7)$);
  \draw[flow] ($(emptyone.north east)+(0,51.3)$) -- ++(81.7,0) |- ($(prep.north west)+(0,58.6)$);
  \draw[flow] ($(populated.north east)+(0,50.7)$) -- ++(81.7,0) |- ($(prep.north west)+(0,58.6)$);
  \draw[flow] ($(bankthree.north east)+(0,50.6)$) -- ++(94.3,0) |- ($(companyone.north west)+(0,70.7)$);
  \draw[flow] ($(companythree.north east)+(0,51.1)$) -- ++(91.8,0) |- ($(review.north west)+(0,55.7)$);
  \draw[flow] ($(reviewdone.north east)+(0,65)$) -- ++(129,0) |- ($(sentok.north west)+(0,51.3)$);
  \draw[flow] ($(reviewdone.north east)+(0,65)$) -- ++(129,0) |- ($(sentretry.north west)+(0,51)$);
  \draw[flow] ($(sentok.north east)+(0,51.3)$) -- ($(trackone.north west)+(0,51.3)$);
  \draw[flow] ($(sentok.north east)+(0,51.3)$) -- ++(180,0) |- ($(trackload.north west)+(0,51)$);
  \draw[flow] ($(sentretry.north east)+(0,51)$) -- ++(18.4,0) |- ($(sentok.south)+(0,13)$) -- (sentok.south);
  \draw[flow] ($(trackload.north east)+(0,51)$) -- ++(21.6,0) |- ($(trackone.south)+(0,12.4)$) -- (trackone.south);
  \draw[jump] (sentretry.south) -- (sentfail.north);
  \draw[jump] (trackload.south) -- (trackfail.north);
  \fill[portblue] (sentretry.south) circle (1.5);
  \fill[portblue] (trackload.south) circle (1.5);
  % jumps out of step 3
  \draw[jump] ($(review.north east)+(0,43.5)$) -- ++(16.8,0) |- ++(-145.5,-69.6) |- ($(debitone.north west)+(0,51.6)$);
  \draw[jumpboth] ($(review.north west)+(0,84.1)$) -| ++(-72.5,280) |- ($(addone.north west)+(0,70.3)$);
  \draw[jumpboth] ($(reviewdebit.north east)+(0,104.1)$) -- ++(23.2,0) |- ($(telone.north west)+(0,51)$);
  \draw[jumpboth] ($(reviewdebit.north east)+(0,43.5)$) -- ++(11.5,0) |- ++(-49.6,446) |- ($(editone.north west)+(0,50.6)$);
  \draw[jumpboth] (telthree.south) |- ($(teleditone.north west)+(0,51)$);
\end{tikzpicture}
\end{document}
